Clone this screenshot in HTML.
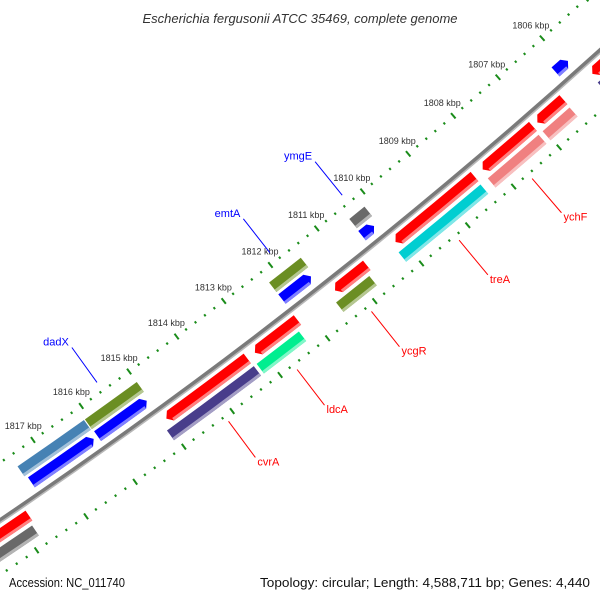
<!DOCTYPE html>
<html><head><meta charset="utf-8"><style>
html,body{margin:0;padding:0;background:#fff;width:600px;height:600px;overflow:hidden;}
svg{display:block;overflow:hidden;font-family:"Liberation Sans","DejaVu Sans",sans-serif;}
</style></head><body>
<svg id="map" width="600" height="600" viewBox="0 0 600 600" xmlns="http://www.w3.org/2000/svg">
<defs><clipPath id="frame"><rect width="600" height="600"/></clipPath></defs>
<rect width="600" height="600" fill="#fff"/>
<g clip-path="url(#frame)">
<g id="rulers"></g>
<g id="backbone"></g>
<g id="features"></g>
<g id="labels"></g>
</g>
<text x="300" y="23" text-anchor="middle" font-size="13" font-style="italic" fill="#333">Escherichia fergusonii ATCC 35469, complete genome</text>
<text x="9" y="587" font-size="12.5" fill="#111" textLength="116" lengthAdjust="spacingAndGlyphs">Accession: NC_011740</text>
<text x="260" y="587" font-size="12.5" fill="#111" textLength="330" lengthAdjust="spacingAndGlyphs">Topology: circular; Length: 4,588,711 bp; Genes: 4,440</text>
</svg>
<script>
// feature data (kbp start, kbp end)
const track2InStart = [1816.10, 1815.00, 1811.52, 1810.14];
const track2InEnd   = [1817.47, 1816.08, 1812.20, 1810.47];
const track2InColor = ["#4682b4", "#6b8e23", "#6b8e23", "#696969"];
const track1InStart = [1816.15, 1815.05, 1811.58, 1810.22, 1805.93];
const track1InEnd   = [1817.43, 1816.07, 1812.20, 1810.48, 1806.21];
const track1OutStart = [1817.78, 1813.27, 1812.21, 1810.73, 1808.39, 1807.10, 1806.42, 1804.00];
const track1OutEnd   = [1819.50, 1814.96, 1813.11, 1811.41, 1810.11, 1808.21, 1807.00, 1805.77];
const track2OutStart = [1817.83, 1813.26, 1812.31, 1810.81, 1808.40, 1807.12, 1806.43, 1804.00];
const track2OutEnd   = [1819.50, 1815.07, 1813.20, 1811.52, 1810.18, 1808.24, 1807.03, 1805.80];
const track2OutColor = ["#696969", "#483d8b", "#00ee90", "#6b8e23", "#00ced1", "#f08080", "#f08080", "#483d8b"];
const labelNames = ["dadX", "emtA", "ymgE", "cvrA", "ldcA", "ycgR", "treA", "ychF"];
const labelKbp   = [1815.55, 1811.88, 1810.31, 1814.15, 1812.72, 1811.15, 1809.27, 1807.68];
const labelInner = [true, true, true, false, false, false, false, false];
const tickMin = 1802, tickMax = 1821;

// geometry
const CX = -3039, CY = -3978;
const R_BB = 5429, R_RIN = 5381, R_ROUT = 5474;
const R_T2I = 5400, R_T1I = 5415, R_T1O = 5441, R_T2O = 5457, HALF = 6;
const TH0 = 50.79 * Math.PI / 180, K = 59 / 5381;
const NS = "http://www.w3.org/2000/svg";
function ang(kbp){ return TH0 + (kbp - 1810) * K; }
function pt(kbp, r){ const a = ang(kbp); return [CX + r*Math.cos(a), CY + r*Math.sin(a)]; }
function mk(tag, attrs, parent){ const e = document.createElementNS(NS, tag); for (const k in attrs) e.setAttribute(k, attrs[k]); parent.appendChild(e); return e; }
function f(p){ return p[0].toFixed(2) + "," + p[1].toFixed(2); }
function lighten(c){ const n = parseInt(c.slice(1),16); const r=(n>>16)&255,g=(n>>8)&255,b=n&255;
  const m=v=>Math.round(v+(255-v)*0.5); return "rgb("+m(r)+","+m(g)+","+m(b)+")"; }

// rulers
const rul = document.getElementById("rulers");
for (let i = tickMin*5; i <= tickMax*5; i++) {
  const kbp = i / 5, major = (i % 5 === 0);
  [R_RIN, R_ROUT].forEach(function(r){
    const len = major ? 3.5 : 1.2;
    const p1 = pt(kbp, r - len), p2 = pt(kbp, r + len);
    const t = mk("line", {x1:p1[0], y1:p1[1], x2:p2[0], y2:p2[1], stroke:"#1a8c1a", "stroke-width":2}, rul);
    
    
  });
  if (major) {
    const c = pt(kbp, R_RIN - 17);
    const tx = mk("text", {x:c[0], y:c[1]+3, "text-anchor":"middle", "font-size":"9", fill:"#333"}, rul);
    tx.textContent = kbp + " kbp";
    
    
  }
}

// backbone
const bb = document.getElementById("backbone");
const b1 = mk("circle", {cx:CX, cy:CY, r:R_BB - 0.5, fill:"none", stroke:"#7a7a7a", "stroke-width":4}, bb);


const b2 = mk("circle", {cx:CX, cy:CY, r:R_BB + 1.8, fill:"none", stroke:"#b8b8b8", "stroke-width":1.6}, bb);



// features
const feat = document.getElementById("features");
function arcPath(a, b, r1, r2, arrow){
  const h = 5 / 59, rm = (r1 + r2) / 2;
  let aa = a, bb2 = b;
  if (arrow === 1) bb2 = Math.max(a, b - h);
  if (arrow === -1) aa = Math.min(b, a + h);
  let d = "M" + f(pt(aa, r2)) + " A" + r2 + "," + r2 + " 0 0 1 " + f(pt(bb2, r2));
  if (arrow === 1) d += " L" + f(pt(b, rm));
  d += " L" + f(pt(bb2, r1)) + " A" + r1 + "," + r1 + " 0 0 0 " + f(pt(aa, r1));
  if (arrow === -1) d += " L" + f(pt(a, rm));
  return d + " Z";
}
function drawFeature(a, b, rc, color, arrow, name){
  const g = mk("g", {}, feat);
  
  
  const p = mk("path", {d:arcPath(a, b, rc - HALF, rc + HALF, arrow), fill:color}, g);
  
  
  const h = 5/59;
  const sa = arrow === -1 ? a + h : a, sb = arrow === 1 ? b - h : b;
  if (sb > sa) {
    const s = mk("path", {d:arcPath(sa, sb, rc + HALF - 3, rc + HALF, 0), fill:lighten(color)}, g);
    
    
  }
}
track2InStart.forEach(function(s,i){ drawFeature(s, track2InEnd[i], R_T2I, track2InColor[i], 0, 'inner-feature-' + i); });
track1InStart.forEach(function(s,i){ drawFeature(s, track1InEnd[i], R_T1I, "#0000ff", -1, 'reverse-cds-' + i); });
track1OutStart.forEach(function(s,i){ drawFeature(s, track1OutEnd[i], R_T1O, "#ff0000", 1, 'forward-cds-' + i); });
track2OutStart.forEach(function(s,i){ drawFeature(s, track2OutEnd[i], R_T2O, track2OutColor[i], 0, 'outer-feature-' + i); });

// labels
const lab = document.getElementById("labels");
labelNames.forEach(function(nm, i){
  const inner = labelInner[i], col = inner ? "#0000ff" : "#ff0000";
  const p1 = inner ? pt(labelKbp[i], 5371) : pt(labelKbp[i], 5480);
  const p2 = inner ? pt(labelKbp[i], 5328) : pt(labelKbp[i], 5525);
  const ln = mk("line", {x1:p1[0], y1:p1[1], x2:p2[0], y2:p2[1], stroke:col, "stroke-width":1}, lab);
  
  
  const t = inner
    ? mk("text", {x:p2[0]-3, y:p2[1]-2, "text-anchor":"end", "font-size":"11", fill:col}, lab)
    : mk("text", {x:p2[0]+2, y:p2[1]+8, "text-anchor":"start", "font-size":"11", fill:col}, lab);
  t.textContent = nm;
  
  
});
</script>
</body></html>
